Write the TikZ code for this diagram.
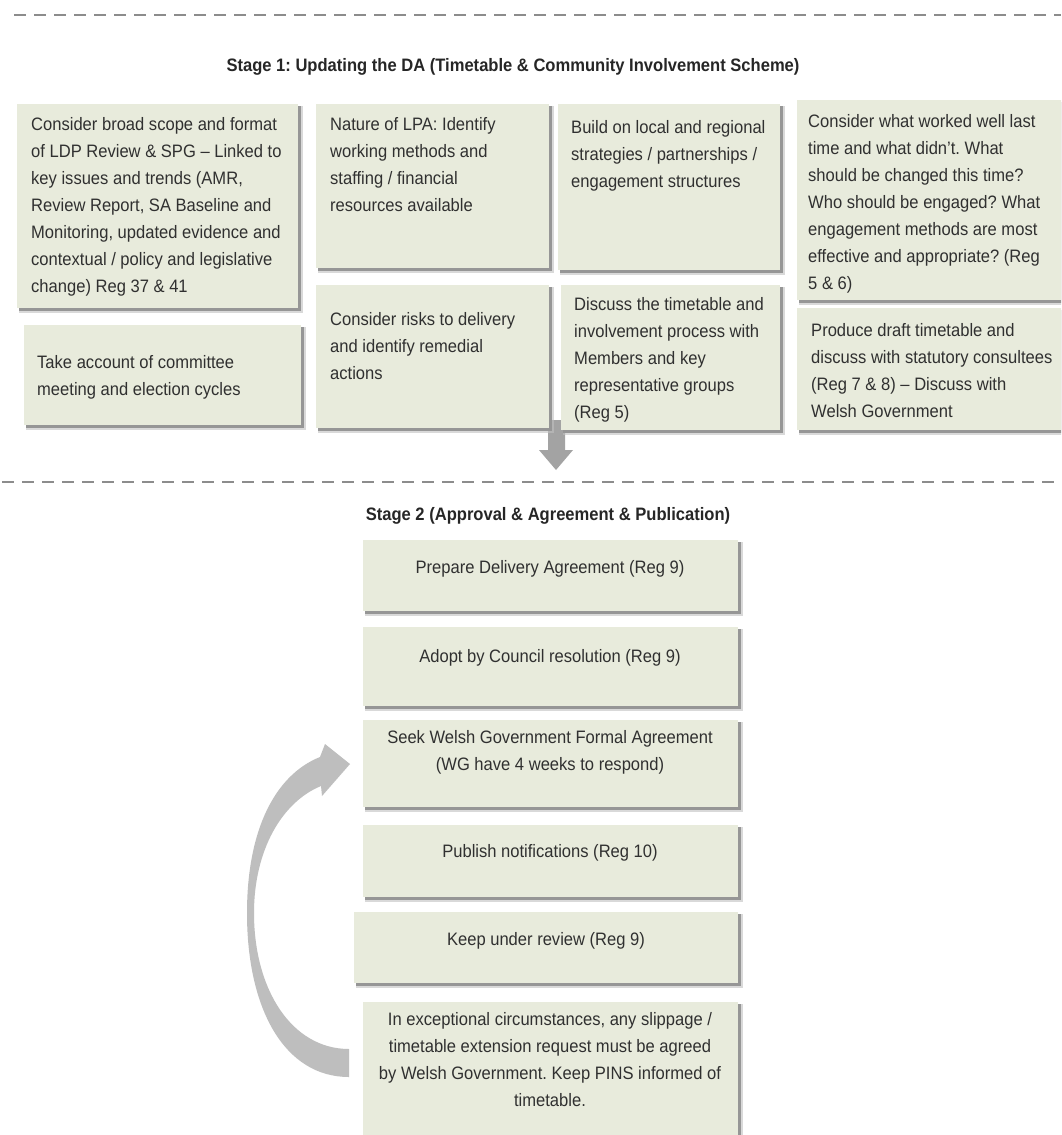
\documentclass[tikz,border=0pt]{standalone}
\usepackage{fontspec}
\setmainfont[FakeStretch=0.92]{Liberation Sans}
\frenchspacing
\definecolor{boxfill}{HTML}{E8EBDC}
\definecolor{txtc}{HTML}{303030}
\definecolor{dashc}{HTML}{8C8C8C}
\definecolor{arrc}{HTML}{A3A3A3}
\definecolor{curvc}{HTML}{BEBEBE}
\definecolor{shadc}{HTML}{969696}
\tikzset{
  boxst/.style={fill=boxfill, draw=none, inner sep=0pt, anchor=north west},
  txt/.style={inner sep=0pt, anchor=north west, align=left, text=txtc, font=\fontsize{18}{27}\selectfont},
  ctxt/.style={inner sep=0pt, anchor=north, align=center, text=txtc, font=\fontsize{18}{27}\selectfont},
  titlest/.style={font=\bfseries\fontsize{18}{22}\selectfont, text=black!85, inner sep=0pt, anchor=base},
  sepline/.style={dashc, line width=2.5pt, dash pattern=on 12pt off 8pt},
}
% name, x1, y1, x2, y2
\newcommand\mybox[5]{%
  \fill[shadc!60, opacity=0.6] (#2+2,#3+2) rectangle (#4+5,#5+5);
  \fill[shadc] (#2+2,#3+2) rectangle (#4+3,#5+3);
  \node[boxst, minimum width=#4pt-#2pt, minimum height=#5pt-#3pt] (#1) at (#2,#3) {};
}
\begin{document}
\begin{tikzpicture}[x=1pt, y=-1pt]
\useasboundingbox (0,0) rectangle (1061,1135);
\clip (0,0) rectangle (1061,1135);
\fill[white] (0,0) rectangle (1061,1135);

% separators
\draw[sepline] (14,15) -- (1061,15);
\draw[sepline] (2,482) -- (1061,482);

% titles
\node[titlest] (t1) at (513,71) {Stage 1: Updating the DA (Timetable \& Community Involvement Scheme)};
\node[titlest] (t2) at (548,520) {Stage 2 (Approval \& Agreement \& Publication)};

% down block arrow
\fill[arrc] (548,420) -- (565,420) -- (565,450) -- (573,450) -- (556,470) -- (539,450) -- (548,450) -- cycle;

% Stage 1 boxes
\mybox{a1}{17}{104}{298}{308}
\node[txt] (a1t) at (31,117) {Consider broad scope and format\\of LDP Review \& SPG -- Linked to\\key issues and trends (AMR,\\Review Report, SA Baseline and\\Monitoring, updated evidence and\\contextual / policy and legislative\\change) Reg 37 \& 41};
\mybox{a2}{24}{325}{301}{425}
\node[txt] (a2t) at (37,355) {Take account of committee\\meeting and election cycles};
\mybox{b1}{316}{104}{549}{268}
\node[txt] (b1t) at (330,117) {Nature of LPA: Identify\\working methods and\\staffing / financial\\resources available};
\mybox{b2}{316}{285}{549}{428}
\node[txt] (b2t) at (330,312) {Consider risks to delivery\\and identify remedial\\actions};
\mybox{c1}{558}{104}{780}{270}
\node[txt] (c1t) at (571,120) {Build on local and regional\\strategies / partnerships /\\engagement structures};
\mybox{c2}{561}{285}{780}{430}
\node[txt] (c2t) at (574,297) {Discuss the timetable and\\involvement process with\\Members and key\\representative groups\\(Reg 5)};
\mybox{d1}{797}{100}{1075}{300}
\node[txt] (d1t) at (808,114) {Consider what worked well last\\time and what didn't. What\\should be changed this time?\\Who should be engaged? What\\engagement methods are most\\effective and appropriate? (Reg\\5 \& 6)};
\mybox{d2}{797}{308}{1075}{430}
\node[txt] (d2t) at (811,323) {Produce draft timetable and\\discuss with statutory consultees\\(Reg 7 \& 8) -- Discuss with\\Welsh Government};

% Stage 2 boxes
\mybox{s1}{363}{540}{738}{611}
\node[ctxt] (s1t) at (550,560) {Prepare Delivery Agreement (Reg 9)};
\mybox{s2}{363}{627}{738}{706}
\node[ctxt] (s2t) at (550,649) {Adopt by Council resolution (Reg 9)};
\mybox{s3}{363}{720}{738}{807}
\node[ctxt] (s3t) at (550,730) {Seek Welsh Government Formal Agreement\\(WG have 4 weeks to respond)};
\mybox{s4}{363}{825}{738}{897}
\node[ctxt] (s4t) at (550,844) {Publish notifications (Reg 10)};
\mybox{s5}{354}{912}{738}{983}
\node[ctxt] (s5t) at (546,932) {Keep under review (Reg 9)};
\mybox{s6}{363}{1002}{738}{1150}
\node[ctxt] (s6t) at (550,1012) {In exceptional circumstances, any slippage /\\timetable extension request must be agreed\\by Welsh Government. Keep PINS informed of\\timetable.};

% curved feedback arrow
\fill[curvc] (349,1077) .. controls (285,1077) and (247,1010) .. (247,913)
  .. controls (247,830) and (275,775) .. (320,757)
  -- (325,744) -- (350,764) -- (322,796) -- (321,786)
  .. controls (282,802) and (254,850) .. (254,913)
  .. controls (254,990) and (292,1049) .. (349,1049) -- cycle;
\end{tikzpicture}
\end{document}
